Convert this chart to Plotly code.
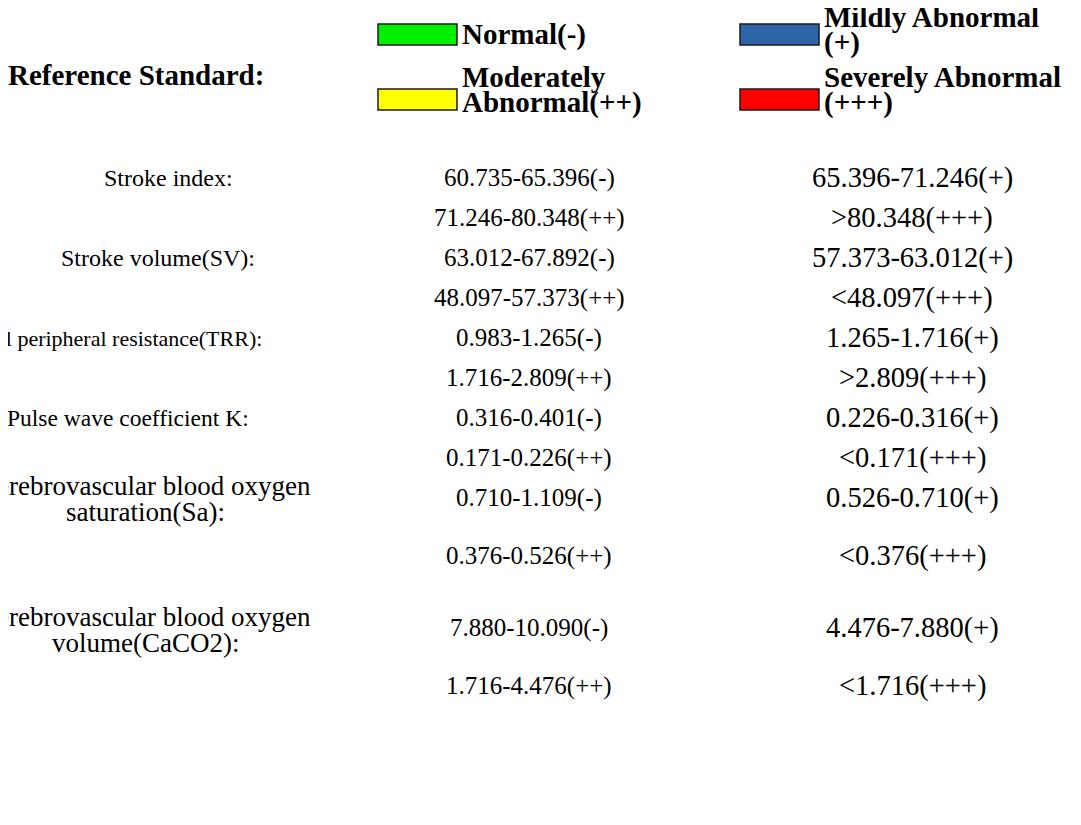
import plotly.graph_objects as go

# legend (reference standard)
legend_labels = ["Normal(-)", "Mildly Abnormal<br>(+)", "Moderately<br>Abnormal(++)", "Severely Abnormal<br>(+++)"]
legend_colors = ["#00f000", "#2e64a8", "#ffff00", "#ff0000"]

# indicator rows
row_labels = [
    "Stroke index:",
    "Stroke volume(SV):",
    "Total peripheral resistance(TRR):",
    "Pulse wave coefficient K:",
    "Cerebrovascular blood oxygen<br>saturation(Sa):",
    "Cerebrovascular blood oxygen<br>volume(CaCO2):",
]
normal_ranges = ["60.735-65.396(-)", "63.012-67.892(-)", "0.983-1.265(-)", "0.316-0.401(-)", "0.710-1.109(-)", "7.880-10.090(-)"]
mild_ranges = ["65.396-71.246(+)", "57.373-63.012(+)", "1.265-1.716(+)", "0.226-0.316(+)", "0.526-0.710(+)", "4.476-7.880(+)"]
moderate_ranges = ["71.246-80.348(++)", "48.097-57.373(++)", "1.716-2.809(++)", "0.171-0.226(++)", "0.376-0.526(++)", "1.716-4.476(++)"]
severe_ranges = [">80.348(+++)", "<48.097(+++)", ">2.809(+++)", "<0.171(+++)", "<0.376(+++)", "<1.716(+++)"]

W, H = 1081, 825
FONT = "Liberation Serif"
COL1 = 25
COL2 = 28.5
BOLD = 29
LINE = 26

fig = go.Figure()


def add_text(x, y, text, size, bold=False, anchor="center"):
    # one annotation per line so the (tight) line spacing can be set
    lines = text.split("<br>")
    y0 = y - (len(lines) - 1) * LINE / 2
    for i, ln in enumerate(lines):
        fig.add_annotation(
            x=x, y=y0 + i * LINE, xref="x", yref="y",
            text=f"<b>{ln}</b>" if bold else ln,
            showarrow=False, xanchor=anchor, yanchor="middle",
            font=dict(family=FONT, size=size, color="black"),
        )


# header
add_text(128, 67, "Reference Standard:", BOLD, bold=True)

sw_x = [370, 732, 370, 732]
sw_y = [26.5, 26.5, 91.5, 91.5]
txt_dy = [0, -5, -10, -10]
for lab, col, sx, sy, dy in zip(legend_labels, legend_colors, sw_x, sw_y, txt_dy):
    fig.add_shape(type="rect", x0=sx, x1=sx + 79, y0=sy - 10.5, y1=sy + 10.5,
                  xref="x", yref="y", fillcolor=col, line=dict(color="#1a1a1a", width=1.5))
    add_text(sx + 82, sy + dy, lab, BOLD, bold=True, anchor="left")

label_x = [160, 150, 106, 120, 137, 137]
label_size = [24, 24, 22, 23.5, 27, 27]
col1_x = 521
col2_x = 904
label_y = [170, 250, 330, 410, 491, 622]
top_y = [170, 250, 330, 410, 490, 620]
bot_y = [210, 290, 370, 450, 548, 678]

for i, lab in enumerate(row_labels):
    add_text(label_x[i], label_y[i], lab, label_size[i])
    add_text(col1_x, top_y[i], normal_ranges[i], COL1)
    add_text(col2_x, top_y[i], mild_ranges[i], COL2)
    add_text(col1_x, bot_y[i], moderate_ranges[i], COL1)
    add_text(col2_x, bot_y[i], severe_ranges[i], COL2)

fig.update_xaxes(range=[0, W], visible=False, fixedrange=True)
fig.update_yaxes(range=[H, 0], visible=False, fixedrange=True)
fig.update_layout(
    width=W, height=H,
    margin=dict(l=0, r=0, t=0, b=0),
    paper_bgcolor="white", plot_bgcolor="white",
    showlegend=False,
)

fig.write_html("out.html")
